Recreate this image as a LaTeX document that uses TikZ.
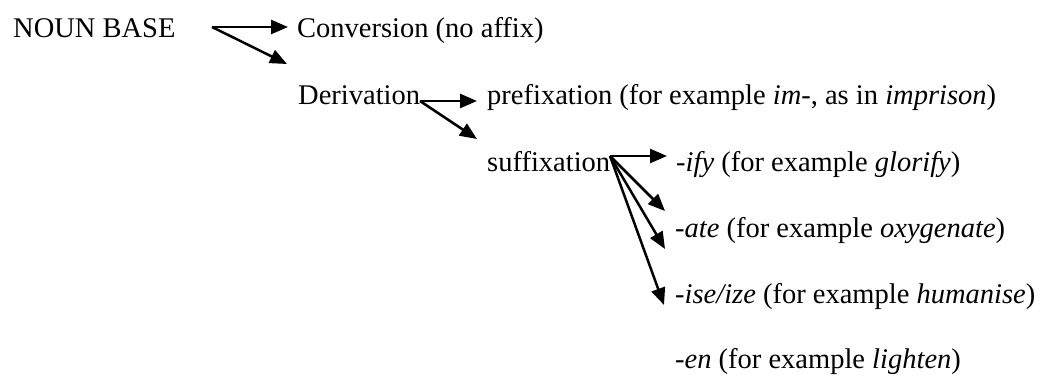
\documentclass[tikz,border=0pt]{standalone}
\usepackage{fontspec}
\setmainfont{Liberation Serif}
\usetikzlibrary{arrows.meta}
\begin{document}
\begin{tikzpicture}[x=1pt,y=-1pt,
  lbl/.style={anchor=base west,inner sep=0pt,font=\fontsize{28.5}{34}\selectfont},
  arr/.style={line width=2.5pt,-{Triangle[length=17pt,width=14pt]}}]
\useasboundingbox (0,0) rectangle (1044,375);
\node[lbl] (nb) at (13,37) {NOUN BASE};
\node[lbl] (conv) at (297,37) {Conversion (no affix)};
\node[lbl] (der) at (298,104) {Derivation};
\node[lbl] (pre) at (487,104) {prefixation (for example \textit{im-}, as in \textit{imprison})};
\node[lbl] (suf) at (487,171) {suffixation};
\node[lbl] (ify) at (676,171) {\textit{-ify} (for example \textit{glorify})};
\node[lbl] (ate) at (675,237) {\textit{-ate} (for example \textit{oxygenate})};
\node[lbl] (ise) at (675,303) {\textit{-ise/ize} (for example \textit{humanise})};
\node[lbl] (en) at (675,368) {\textit{-en} (for example \textit{lighten})};
% arrow tails and heads
\coordinate (nbt) at (212,27);
\coordinate (convh) at (288,27);
\coordinate (derh) at (287,64);
\coordinate (dert) at (420,101);
\coordinate (preh) at (477,101);
\coordinate (sufh) at (477,139);
\coordinate (suft) at (610,156);
\coordinate (ifyh) at (667,156);
\coordinate (ateh1) at (665,211);
\coordinate (ateh2) at (665,249);
\coordinate (iseh) at (664,305);
\draw[arr] (nbt) -- (convh);
\draw[arr] (nbt) -- (derh);
\draw[arr] (dert) -- (preh);
\draw[arr] (dert) -- (sufh);
\draw[arr] (suft) -- (ifyh);
\draw[arr] (suft) -- (ateh1);
\draw[arr] (suft) -- (ateh2);
\draw[arr] (suft) -- (iseh);
\end{tikzpicture}
\end{document}
